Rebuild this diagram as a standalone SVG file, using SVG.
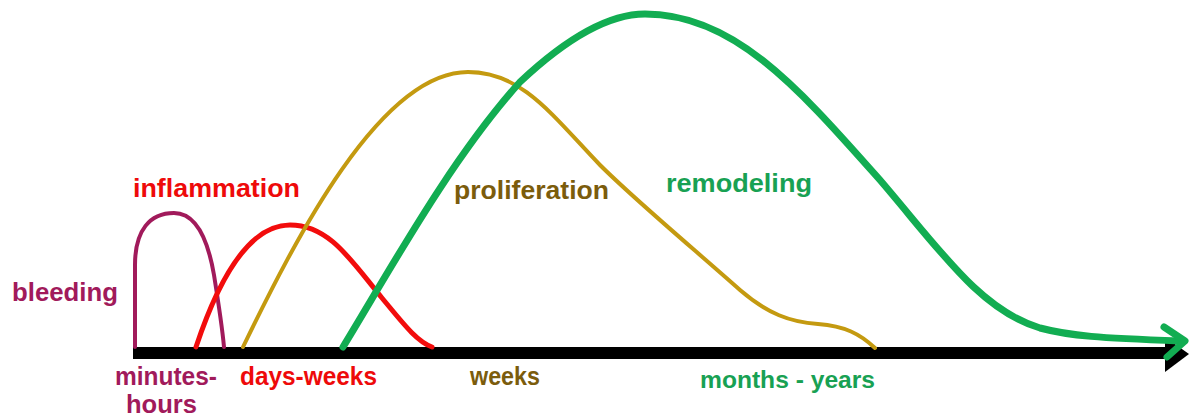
<svg xmlns="http://www.w3.org/2000/svg" width="1189" height="420" viewBox="0 0 1189 420">
  <style>
    .lbl { font-family: "Liberation Sans", Arial, sans-serif; font-weight: bold; }
    .curve { fill: none; stroke-linecap: round; stroke-linejoin: round; }
    .bleed { fill: #a11a5b; }
    .infl { fill: #ee0a0a; }
    .prol { fill: #7b5c0c; }
    .remo { fill: #18a153; }
  </style>
  <rect width="1189" height="420" fill="#ffffff"/>

  <!-- time axis -->
  <g id="axis">
    <rect x="133" y="347" width="1036" height="12" fill="#000"/>
    <polygon points="1165,337 1189,354 1165,372" fill="#000"/>
  </g>

  <!-- phase curves -->
  <g id="curves">
    <path id="bleeding-curve" class="curve" stroke="#a11a5b" stroke-width="4"
          d="M135,347 L135,265 C135,230 150,213 174,213 C196,213 208,240 214,275 C218,300 222,325 224,347"/>
    <path id="inflammation-curve" class="curve" stroke="#f20c0c" stroke-width="5"
          d="M196,347 C215,290 245,225 290,225 C330,225 352,262 382,298 C402,322 416,341 432,347"/>
    <path id="proliferation-curve" class="curve" stroke="#c49a10" stroke-width="4"
          d="M243,347 C295,240 380,72 468,72 C522,72 552,115 600,165 C635,200 695,250 740,290 C768,314 790,322 818,324 C845,326 860,334 875,348"/>
    <path id="remodeling-curve" class="curve" stroke="#12ad52" stroke-width="7"
          d="M343,347 C390,270 450,160 520,82 C570,35 610,14 645,14 C735,14 800,90 880,180 C940,250 980,310 1040,328 C1070,336 1100,338 1180,341"/>
    <polyline id="remodeling-head" class="curve" stroke="#12ad52" stroke-width="7"
              points="1164,327 1185,341 1167,357"/>
  </g>

  <!-- phase names -->
  <g id="phase-labels">
    <text class="lbl bleed" x="12" y="301" font-size="26" textLength="106" lengthAdjust="spacingAndGlyphs">bleeding</text>
    <text class="lbl infl" x="133" y="197" font-size="26" textLength="167" lengthAdjust="spacingAndGlyphs">inflammation</text>
    <text class="lbl prol" x="454" y="199" font-size="26" textLength="155" lengthAdjust="spacingAndGlyphs">proliferation</text>
    <text class="lbl remo" x="666" y="192" font-size="26" textLength="146" lengthAdjust="spacingAndGlyphs">remodeling</text>
  </g>

  <!-- durations -->
  <g id="time-labels">
    <text class="lbl bleed" x="115" y="385" font-size="25" textLength="102" lengthAdjust="spacingAndGlyphs">minutes-</text>
    <text class="lbl bleed" x="126" y="413" font-size="25" textLength="71" lengthAdjust="spacingAndGlyphs">hours</text>
    <text class="lbl infl" x="240" y="385" font-size="25" textLength="137" lengthAdjust="spacingAndGlyphs">days-weeks</text>
    <text class="lbl prol" x="470" y="385" font-size="25" textLength="70" lengthAdjust="spacingAndGlyphs">weeks</text>
    <text class="lbl remo" x="700" y="388" font-size="24" textLength="175" lengthAdjust="spacingAndGlyphs">months - years</text>
  </g>
</svg>
